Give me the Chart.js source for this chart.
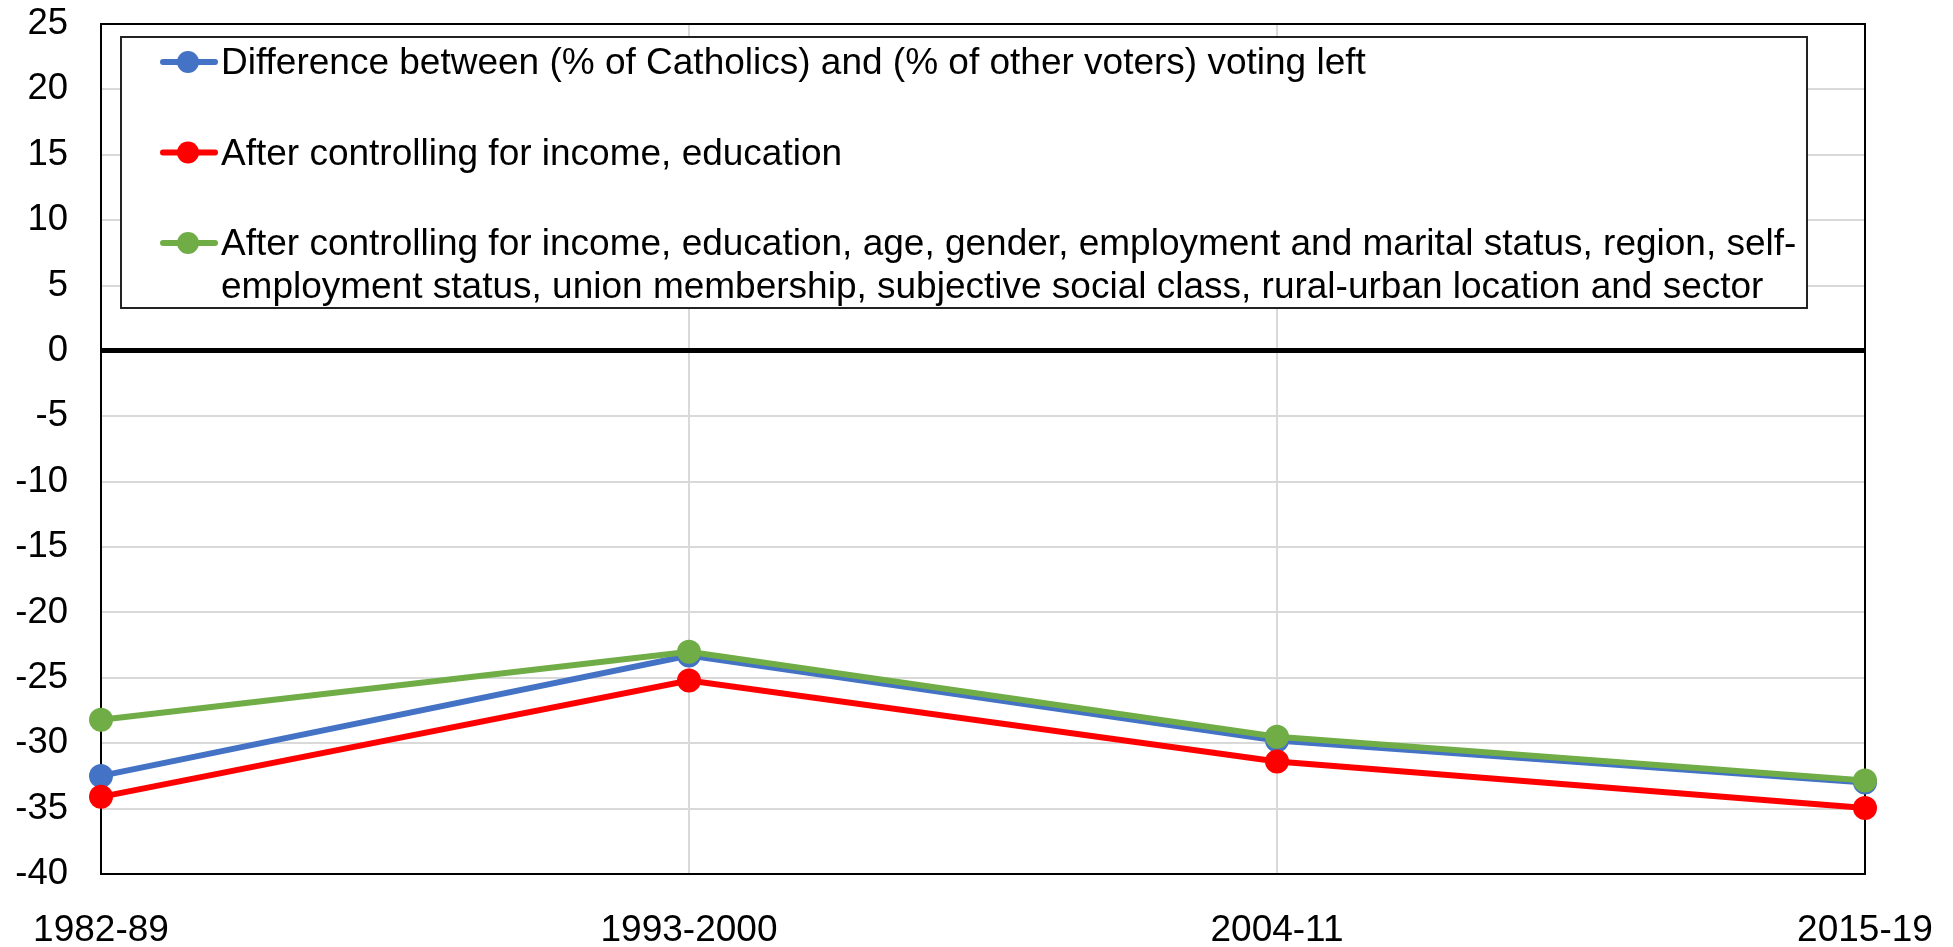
<!DOCTYPE html>
<html>
<head>
<meta charset="utf-8">
<script src="https://cdn.jsdelivr.net/npm/chart.js@4.4.1/dist/chart.umd.min.js"></script>
<style>
  html, body { margin: 0; padding: 0; background: #fff; }
</style>
</head>
<body>
<canvas id="chart" width="1953" height="947"></canvas>
<script>
// ─── Data ─────────────────────────────────────────────────────
const periods = ["1982-89", "1993-2000", "2004-11", "2015-19"];
const rawGap = [-32.5, -23.3, -29.8, -33.0];
const afterIncomeEdu = [-34.1, -25.2, -31.4, -34.95];
const afterAllControls = [-28.2, -23.0, -29.5, -32.85];

const labelRaw = ["Difference between (% of Catholics) and (% of other voters) voting left"];
const labelIncomeEdu = ["After controlling for income, education"];
const labelAll = [
  "After controlling for income, education, age, gender, employment and marital status, region, self-",
  "employment status, union membership, subjective social class, rural-urban location and sector",
];

const FONT = "'Liberation Sans', Arial, sans-serif";

// ─── Plugins ──────────────────────────────────────────────────

// black frame round the plot area, drawn over the grid
const plotFrame = {
  id: "plotFrame",
  beforeDatasetsDraw(chart) {
    const { ctx, chartArea: a } = chart;
    ctx.save();
    ctx.strokeStyle = "#000";
    ctx.lineWidth = 2;
    ctx.strokeRect(a.left, a.top, a.right - a.left, a.bottom - a.top);
    ctx.restore();
  },
};

// Excel-like boxed legend with wrapped third entry
const boxLegend = {
  id: "boxLegend",
  afterDraw(chart) {
    const { ctx, chartArea: a } = chart;
    const x0 = a.left + 20, y0 = a.top + 13;
    const x1 = a.right - 58, y1 = a.top + 284;
    ctx.save();
    ctx.fillStyle = "#fff";
    ctx.fillRect(x0, y0, x1 - x0, y1 - y0);
    ctx.strokeStyle = "#222";
    ctx.lineWidth = 2;
    ctx.strokeRect(x0, y0, x1 - x0, y1 - y0);

    ctx.font = "37px " + FONT;
    ctx.textBaseline = "middle";
    ctx.textAlign = "left";
    chart.data.datasets.forEach((ds, i) => {
      const cy = y0 + 25 + i * 90.5;
      ctx.strokeStyle = ds.borderColor;
      ctx.lineWidth = 6;
      ctx.lineCap = "round";
      ctx.beginPath();
      ctx.moveTo(x0 + 42, cy);
      ctx.lineTo(x0 + 94, cy);
      ctx.stroke();
      ctx.fillStyle = ds.backgroundColor;
      ctx.beginPath();
      ctx.arc(x0 + 67, cy, 11, 0, Math.PI * 2);
      ctx.fill();
      ctx.fillStyle = "#000";
      ds.legendLines.forEach((t, j) => ctx.fillText(t, x0 + 100, cy + 2 + j * 43));
    });
    ctx.restore();
  },
};

// ─── Chart ────────────────────────────────────────────────────

function series(label, data, color, order) {
  return {
    label: label.join(" "),
    legendLines: label,
    data: data,
    borderColor: color,
    backgroundColor: color,
    borderWidth: 6,
    pointRadius: 12,
    pointHoverRadius: 12,
    pointBorderWidth: 0,
    tension: 0,
    clip: false,
    order: order,
  };
}

new Chart(document.getElementById("chart").getContext("2d"), {
  type: "line",
  data: {
    labels: periods,
    datasets: [
      series(labelRaw, rawGap, "#4472C4", 3),
      series(labelIncomeEdu, afterIncomeEdu, "#FF0000", 2),
      series(labelAll, afterAllControls, "#70AD47", 1),
    ],
  },
  options: {
    responsive: false,
    animation: false,
    layout: { autoPadding: false, padding: { top: 24, right: 88, left: 0, bottom: 0 } },
    plugins: {
      legend: { display: false },
      tooltip: { enabled: false },
    },
    scales: {
      x: {
        offset: false,
        border: { display: false },
        grid: { color: "#d9d9d9", lineWidth: 2, drawTicks: false },
        ticks: { color: "#000", font: { family: FONT, size: 37 }, padding: 35, maxRotation: 0 },
        afterFit: (s) => {
          s.height = 73;
          s.paddingLeft = 0;
          s.paddingRight = 0;
        },
      },
      y: {
        min: -40,
        max: 25,
        border: { display: false },
        grid: {
          color: (c) => (c.tick && c.tick.value === 0 ? "#000" : "#d9d9d9"),
          lineWidth: (c) => (c.tick && c.tick.value === 0 ? 5 : 2),
          drawTicks: false,
        },
        ticks: { stepSize: 5, color: "#000", font: { family: FONT, size: 36.5 }, padding: 33 },
        afterFit: (s) => {
          s.width = 101;
          s.paddingTop = 0;
          s.paddingBottom = 0;
        },
      },
    },
  },
  plugins: [plotFrame, boxLegend],
});
</script>
</body>
</html>
